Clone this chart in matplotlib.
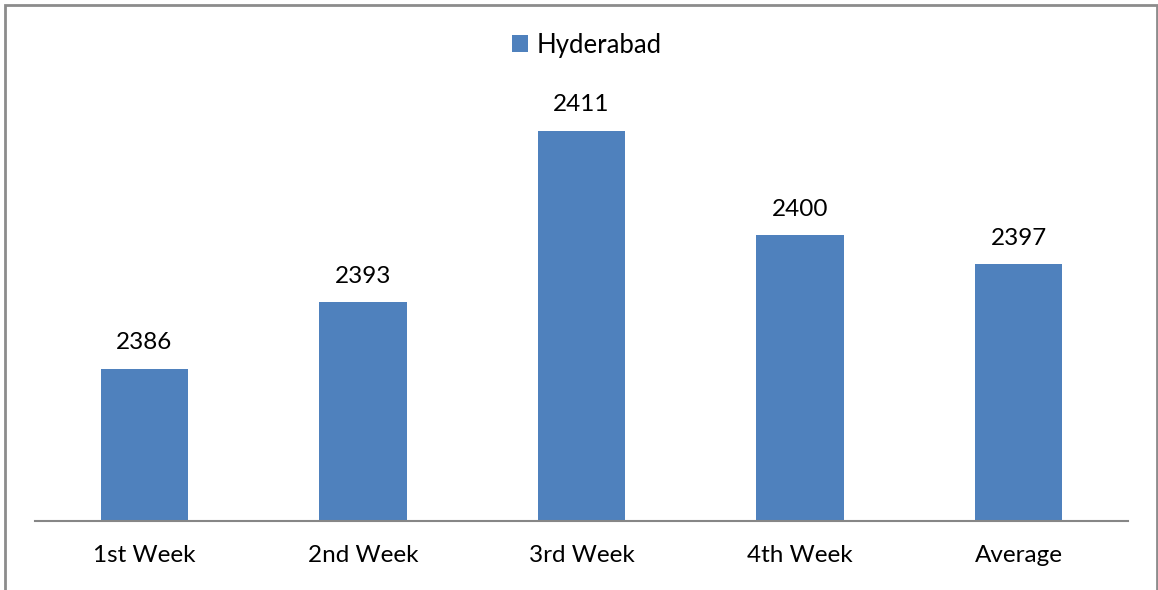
import matplotlib.pyplot as plt
from matplotlib.patches import Rectangle

plt.rcParams['font.family'] = ['Lato', 'DejaVu Sans']

categories = ['1st Week', '2nd Week', '3rd Week', '4th Week', 'Average']
values = [2386, 2393, 2411, 2400, 2397]
series_name = 'Hyderabad'

W, H = 1158, 590
fig = plt.figure(figsize=(W / 100, H / 100), dpi=100)
ax = fig.add_axes([35 / W, (H - 521) / H, (1128 - 35) / W, (521 - 92.6) / H])

bars = ax.bar(range(len(values)), values, width=0.4, color='#4F81BD', label=series_name)
ax.set_xlim(-0.5, len(values) - 0.5)
ax.set_ylim(2370, 2415)

for b, v in zip(bars, values):
    ax.annotate(str(v), (b.get_x() + b.get_width() / 2, v), xytext=(0, 11),
                textcoords='offset points', ha='center', va='bottom', fontsize=17.5)

ax.set_xticks(range(len(values)))
ax.set_xticklabels(categories, fontsize=17.5)
ax.tick_params(axis='x', length=0, pad=17)
ax.set_yticks([])
for s in ['top', 'right', 'left']:
    ax.spines[s].set_visible(False)
ax.spines['bottom'].set_color('#868686')
ax.spines['bottom'].set_linewidth(1.5)

fig.legend(loc='center', bbox_to_anchor=(587 / W, (H - 45) / H), frameon=False,
           fontsize=18.5, handlelength=0.6, handleheight=0.6, handletextpad=0.35)

fig.patches.append(Rectangle((5 / W, -0.1), (1157 - 5) / W, (H - 5) / H + 0.1,
                             transform=fig.transFigure, fill=False,
                             edgecolor='#8c8c8c', linewidth=2))

fig.savefig('out.png', dpi=100)
